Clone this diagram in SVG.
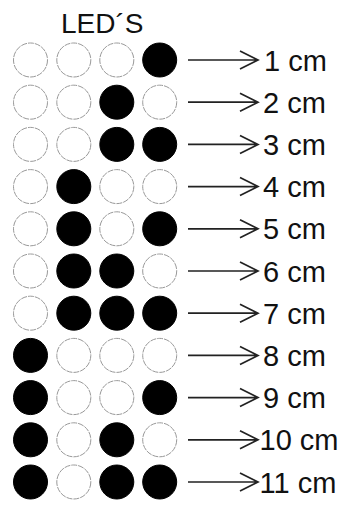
<svg xmlns="http://www.w3.org/2000/svg" width="350" height="510" viewBox="0 0 350 510">
<defs>
<style>
.off{fill:#fff;stroke:#999;stroke-width:1;stroke-dasharray:6 1}
.on{fill:#000;stroke:#000;stroke-width:1}
.arr{fill:none;stroke:#222;stroke-width:1.7}
text{font-family:"Liberation Sans",Arial,sans-serif;font-size:29px;fill:#111}
#title{font-size:28px}
</style>
</defs>
<rect width="350" height="510" fill="#fff"/>
<text id="title" x="61" y="33">LED´S</text>
<g id="row1" transform="translate(0,60)"><circle class="off" cx="30.5" r="17"/><circle class="off" cx="73.8" r="17"/><circle class="off" cx="116.8" r="17"/><circle class="on" cx="159.7" r="17"/><text x="264" y="10.5">1 cm</text></g>
<g id="row2" transform="translate(0,102.2)"><circle class="off" cx="30.5" r="17"/><circle class="off" cx="73.8" r="17"/><circle class="on" cx="116.8" r="17"/><circle class="off" cx="159.7" r="17"/><text x="263" y="10.5">2 cm</text></g>
<g id="row3" transform="translate(0,144.4)"><circle class="off" cx="30.5" r="17"/><circle class="off" cx="73.8" r="17"/><circle class="on" cx="116.8" r="17"/><circle class="on" cx="159.7" r="17"/><text x="263" y="10.5">3 cm</text></g>
<g id="row4" transform="translate(0,186.6)"><circle class="off" cx="30.5" r="17"/><circle class="on" cx="73.8" r="17"/><circle class="off" cx="116.8" r="17"/><circle class="off" cx="159.7" r="17"/><text x="263" y="10.5">4 cm</text></g>
<g id="row5" transform="translate(0,228.8)"><circle class="off" cx="30.5" r="17"/><circle class="on" cx="73.8" r="17"/><circle class="off" cx="116.8" r="17"/><circle class="on" cx="159.7" r="17"/><text x="263" y="10.5">5 cm</text></g>
<g id="row6" transform="translate(0,271)"><circle class="off" cx="30.5" r="17"/><circle class="on" cx="73.8" r="17"/><circle class="on" cx="116.8" r="17"/><circle class="off" cx="159.7" r="17"/><text x="263" y="10.5">6 cm</text></g>
<g id="row7" transform="translate(0,313.2)"><circle class="off" cx="30.5" r="17"/><circle class="on" cx="73.8" r="17"/><circle class="on" cx="116.8" r="17"/><circle class="on" cx="159.7" r="17"/><text x="263" y="10.5">7 cm</text></g>
<g id="row8" transform="translate(0,355.4)"><circle class="on" cx="30.5" r="17"/><circle class="off" cx="73.8" r="17"/><circle class="off" cx="116.8" r="17"/><circle class="off" cx="159.7" r="17"/><text x="263" y="10.5">8 cm</text></g>
<g id="row9" transform="translate(0,397.6)"><circle class="on" cx="30.5" r="17"/><circle class="off" cx="73.8" r="17"/><circle class="off" cx="116.8" r="17"/><circle class="on" cx="159.7" r="17"/><text x="263" y="10.5">9 cm</text></g>
<g id="row10" transform="translate(0,439.8)"><circle class="on" cx="30.5" r="17"/><circle class="off" cx="73.8" r="17"/><circle class="on" cx="116.8" r="17"/><circle class="off" cx="159.7" r="17"/><text x="259.5" y="10.5">10 cm</text></g>
<g id="row11" transform="translate(0,482)"><circle class="on" cx="30.5" r="17"/><circle class="off" cx="73.8" r="17"/><circle class="on" cx="116.8" r="17"/><circle class="on" cx="159.7" r="17"/><text x="259.5" y="10.5">11 cm</text></g>
<g id="connectors" class="arr">
<path d="M188 60H258M240 51L258 60L240 69"/>
<path d="M188 102.2H258M240 93.2L258 102.2L240 111.2"/>
<path d="M188 144.4H258M240 135.4L258 144.4L240 153.4"/>
<path d="M188 186.6H258M240 177.6L258 186.6L240 195.6"/>
<path d="M188 228.8H258M240 219.8L258 228.8L240 237.8"/>
<path d="M188 271H258M240 262L258 271L240 280"/>
<path d="M188 313.2H258M240 304.2L258 313.2L240 322.2"/>
<path d="M188 355.4H258M240 346.4L258 355.4L240 364.4"/>
<path d="M188 397.6H258M240 388.6L258 397.6L240 406.6"/>
<path d="M188 439.8H258M240 430.8L258 439.8L240 448.8"/>
<path d="M188 482H258M240 473L258 482L240 491"/>
</g>
</svg>
